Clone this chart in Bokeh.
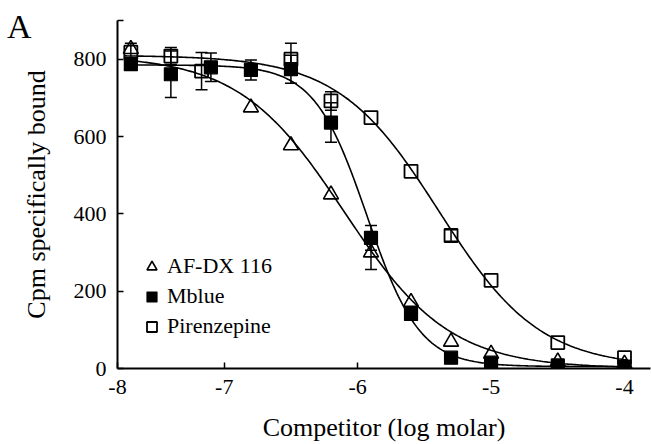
import numpy as np
from bokeh.plotting import figure
from bokeh.models import (Range1d, FixedTicker, Whisker, TeeHead, ColumnDataSource,
                          Legend, LegendItem, LinearAxis)
from bokeh.embed import file_html
from bokeh.resources import INLINE

# ---- data ----
# AF-DX 116 (open triangles)
afdx_x = [-7.7, -6.8, -6.5, -6.2, -5.9, -5.6, -5.3, -5.0, -4.5, -4.0]
afdx_y = [826, 675, 577, 450, 300, 172, 69, 38, 18, 12]
afdx_err = [0, 0, 0, 0, 44, 0, 0, 0, 0, 0]

# Mblue (filled squares)
mblue_x = [-7.7, -7.4, -7.1, -6.8, -6.5, -6.2, -5.9, -5.6, -5.3, -5.0, -4.5, -4.0]
mblue_y = [787, 761, 779, 772, 774, 636, 338, 141, 28, 15, 8, 5]
mblue_err = [12, 60, 37, 26, 36, 51, 32, 0, 0, 0, 0, 0]

# Pirenzepine (open squares)
pir_x = [-7.7, -7.4, -7.17, -6.5, -6.2, -5.9, -5.6, -5.3, -5.0, -4.5, -4.0]
pir_y = [818, 808, 769, 800, 692, 649, 510, 344, 228, 67, 28]
pir_err = [23, 22, 48, 41, 24, 0, 0, 15, 0, 0, 0]

# fitted competition curves: [top, bottom, logIC50, hill]
afdx_fit = [810, 0, -6.10, 1.1]
mblue_fit = [785, 5, -5.93, 2.2]
pir_fit = [810, 3, -5.39, 1.15]

x_ticks = [-7.8, -7, -6, -5, -4]
x_tick_labels = {-7.8: "-8", -7: "-7", -6: "-6", -5: "-5", -4: "-4"}
y_ticks = [0, 200, 400, 600, 800, 900]
y_tick_labels = {0: "0", 200: "200", 400: "400", 600: "600", 800: "800", 900: ""}
panel_letter = "A"

FONT = "Liberation Serif"

p = figure(width=651, height=444, output_backend="svg", toolbar_location=None,
           x_range=Range1d(-7.8, -3.805), y_range=Range1d(0, 900),
           min_border_left=117, min_border_right=1, min_border_top=20,
           min_border_bottom=74)
p.outline_line_color = None
p.xgrid.visible = False
p.ygrid.visible = False
p.background_fill_color = "white"
p.border_fill_color = "white"

for ax in (p.xaxis[0], p.yaxis[0]):
    ax.axis_line_width = 2
    ax.axis_line_color = "black"
    ax.major_tick_in = 6
    ax.major_tick_out = 0
    ax.major_tick_line_width = 1.5
    ax.minor_tick_line_color = None
    ax.major_label_text_font = FONT
    ax.major_label_text_font_size = "22px"
    ax.major_label_text_color = "black"
    ax.axis_label_text_font = FONT
    ax.axis_label_text_font_size = "26px"
    ax.axis_label_text_font_style = "normal"
    ax.axis_label_text_color = "black"

p.xaxis[0].ticker = FixedTicker(ticks=x_ticks)
p.xaxis[0].major_label_overrides = x_tick_labels
p.xaxis[0].axis_label = "Competitor (log molar)"
p.xaxis[0].major_label_standoff = 11
p.xaxis[0].axis_label_standoff = 16

p.yaxis[0].ticker = FixedTicker(ticks=y_ticks)
p.yaxis[0].major_label_overrides = y_tick_labels
p.yaxis[0].axis_label = "Cpm specifically bound"
p.yaxis[0].major_label_standoff = 11
p.yaxis[0].axis_label_standoff = 20

# panel letter "A", drawn as the single tick label of an outer, invisible axis
letter_axis = LinearAxis(ticker=FixedTicker(ticks=[884]),
                         major_label_overrides={884: panel_letter},
                         axis_line_color=None, major_tick_line_color=None,
                         minor_tick_line_color=None,
                         major_label_standoff=-19,
                         major_label_text_font=FONT,
                         major_label_text_font_size="34px",
                         major_label_text_color="black")
p.add_layout(letter_axis, "left")

# curves
xc = np.linspace(-7.75, -3.98, 300)
for top, bottom, lx50, hill in (afdx_fit, mblue_fit, pir_fit):
    yc = bottom + (top - bottom) / (1 + 10 ** ((xc - lx50) * hill))
    p.line(xc, yc, line_color="black", line_width=1.6)

def add_err(xs, ys, es):
    xx = [x for x, e in zip(xs, es) if e > 0]
    yy = [y for y, e in zip(ys, es) if e > 0]
    ee = [e for e in es if e > 0]
    src = ColumnDataSource(dict(x=xx, lo=[y - e for y, e in zip(yy, ee)],
                                hi=[y + e for y, e in zip(yy, ee)]))
    w = Whisker(source=src, base="x", upper="hi", lower="lo", dimension="height",
                line_color="black", line_width=1.5,
                upper_head=TeeHead(size=12, line_color="black", line_width=1.5),
                lower_head=TeeHead(size=12, line_color="black", line_width=1.5))
    p.add_layout(w)

add_err(pir_x, pir_y, pir_err)
add_err(mblue_x, mblue_y, mblue_err)
add_err(afdx_x, afdx_y, afdx_err)

r_pir = p.scatter(pir_x, pir_y, marker="square", size=13, fill_color=None,
                  line_color="black", line_width=1.8)
r_mb = p.scatter(mblue_x, mblue_y, marker="square", size=13, fill_color="black",
                 line_color="black", line_width=1.2)
r_af = p.scatter(afdx_x, afdx_y, marker="triangle", size=15, fill_color=None,
                 line_color="black", line_width=1.6)

legend = Legend(items=[LegendItem(label="AF-DX 116", renderers=[r_af]),
                       LegendItem(label="Mblue", renderers=[r_mb]),
                       LegendItem(label="Pirenzepine", renderers=[r_pir])],
                location=(22, 29), padding=0, margin=0, spacing=4,
                glyph_width=25, glyph_height=25, label_height=25,
                label_standoff=3, border_line_color=None,
                background_fill_alpha=0,
                label_text_font=FONT, label_text_font_size="22px",
                label_text_color="black")
p.add_layout(legend)

open("out.html", "w").write(file_html(p, INLINE))
